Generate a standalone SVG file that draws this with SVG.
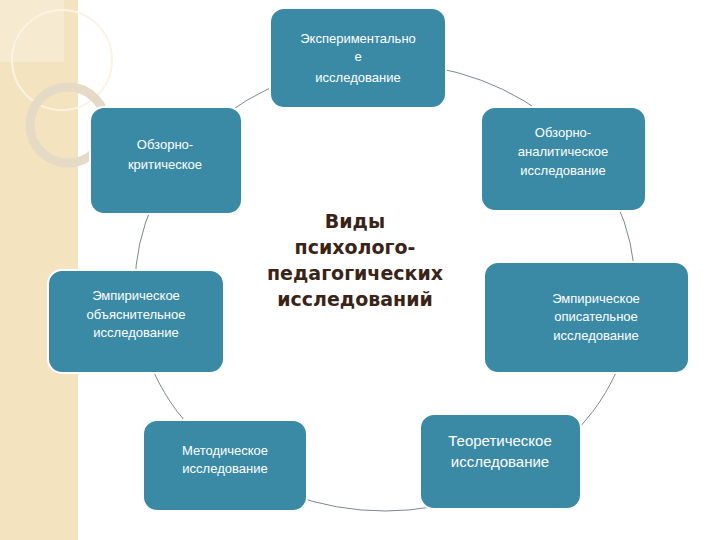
<svg xmlns="http://www.w3.org/2000/svg" width="720" height="540" viewBox="0 0 720 540">
<style>
.n{fill:#3a8aa5;stroke:#ffffff;stroke-width:2}
.t{font-family:"Liberation Sans",Arial,sans-serif;font-size:13px;fill:#ffffff;text-anchor:middle}
.c{fill:none;stroke:#5a6a70;stroke-width:0.8}
</style>
<rect width="720" height="540" fill="#ffffff"/>
<g id="bg">
<rect x="0" y="0" width="78" height="540" fill="#f3e3bf"/>
<rect x="0" y="0" width="64" height="62" fill="#f6ead0"/>
<circle cx="62" cy="60" r="50" fill="none" stroke="#fbf4e2" stroke-width="2"/>
<circle cx="68" cy="125" r="38" fill="none" stroke="#e5dac6" stroke-width="9"/>
</g>
<g id="connectors">
<ellipse class="c" cx="385" cy="287" rx="250" ry="224"/>
</g>
<g id="n1"><rect class="n" x="270" y="8" width="176" height="100" rx="14"/>
<text class="t" x="358" y="43">Экспериментально</text><text class="t" x="358" y="61">е</text><text class="t" x="358" y="82">исследование</text></g>
<g id="n2"><rect class="n" x="90" y="107" width="152" height="107" rx="14"/>
<text class="t" x="165" y="149">Обзорно-</text><text class="t" x="165" y="169">критическое</text></g>
<g id="n3"><rect class="n" x="481" y="107" width="165" height="104" rx="14"/>
<text class="t" x="563" y="137">Обзорно-</text><text class="t" x="563" y="156">аналитическое</text><text class="t" x="563" y="175">исследование</text></g>
<g id="n4"><rect class="n" x="48" y="270" width="176" height="103" rx="14"/>
<text class="t" x="136" y="300">Эмпирическое</text><text class="t" x="136" y="319">объяснительное</text><text class="t" x="136" y="337">исследование</text></g>
<g id="n5"><rect class="n" x="484" y="262" width="205" height="111" rx="14"/>
<text class="t" x="596" y="303">Эмпирическое</text><text class="t" x="596" y="321">описательное</text><text class="t" x="596" y="340">исследование</text></g>
<g id="n6"><rect class="n" x="143" y="420" width="164" height="91" rx="14"/>
<text class="t" x="225" y="455">Методическое</text><text class="t" x="225" y="473">исследование</text></g>
<g id="n7"><rect class="n" x="420" y="414" width="161" height="95" rx="14"/>
<text class="t" x="500" y="446" style="font-size:15px">Теоретическое</text><text class="t" x="500" y="467" style="font-size:15px">исследование</text></g>
<g id="center" font-family="'DejaVu Sans','Liberation Sans',sans-serif" font-size="19" font-weight="bold" fill="#3a2418" text-anchor="middle">
<text x="355" y="228">Виды</text><text x="355" y="254">психолого-</text><text x="355" y="280">педагогических</text><text x="355" y="306">исследований</text></g>
</svg>
